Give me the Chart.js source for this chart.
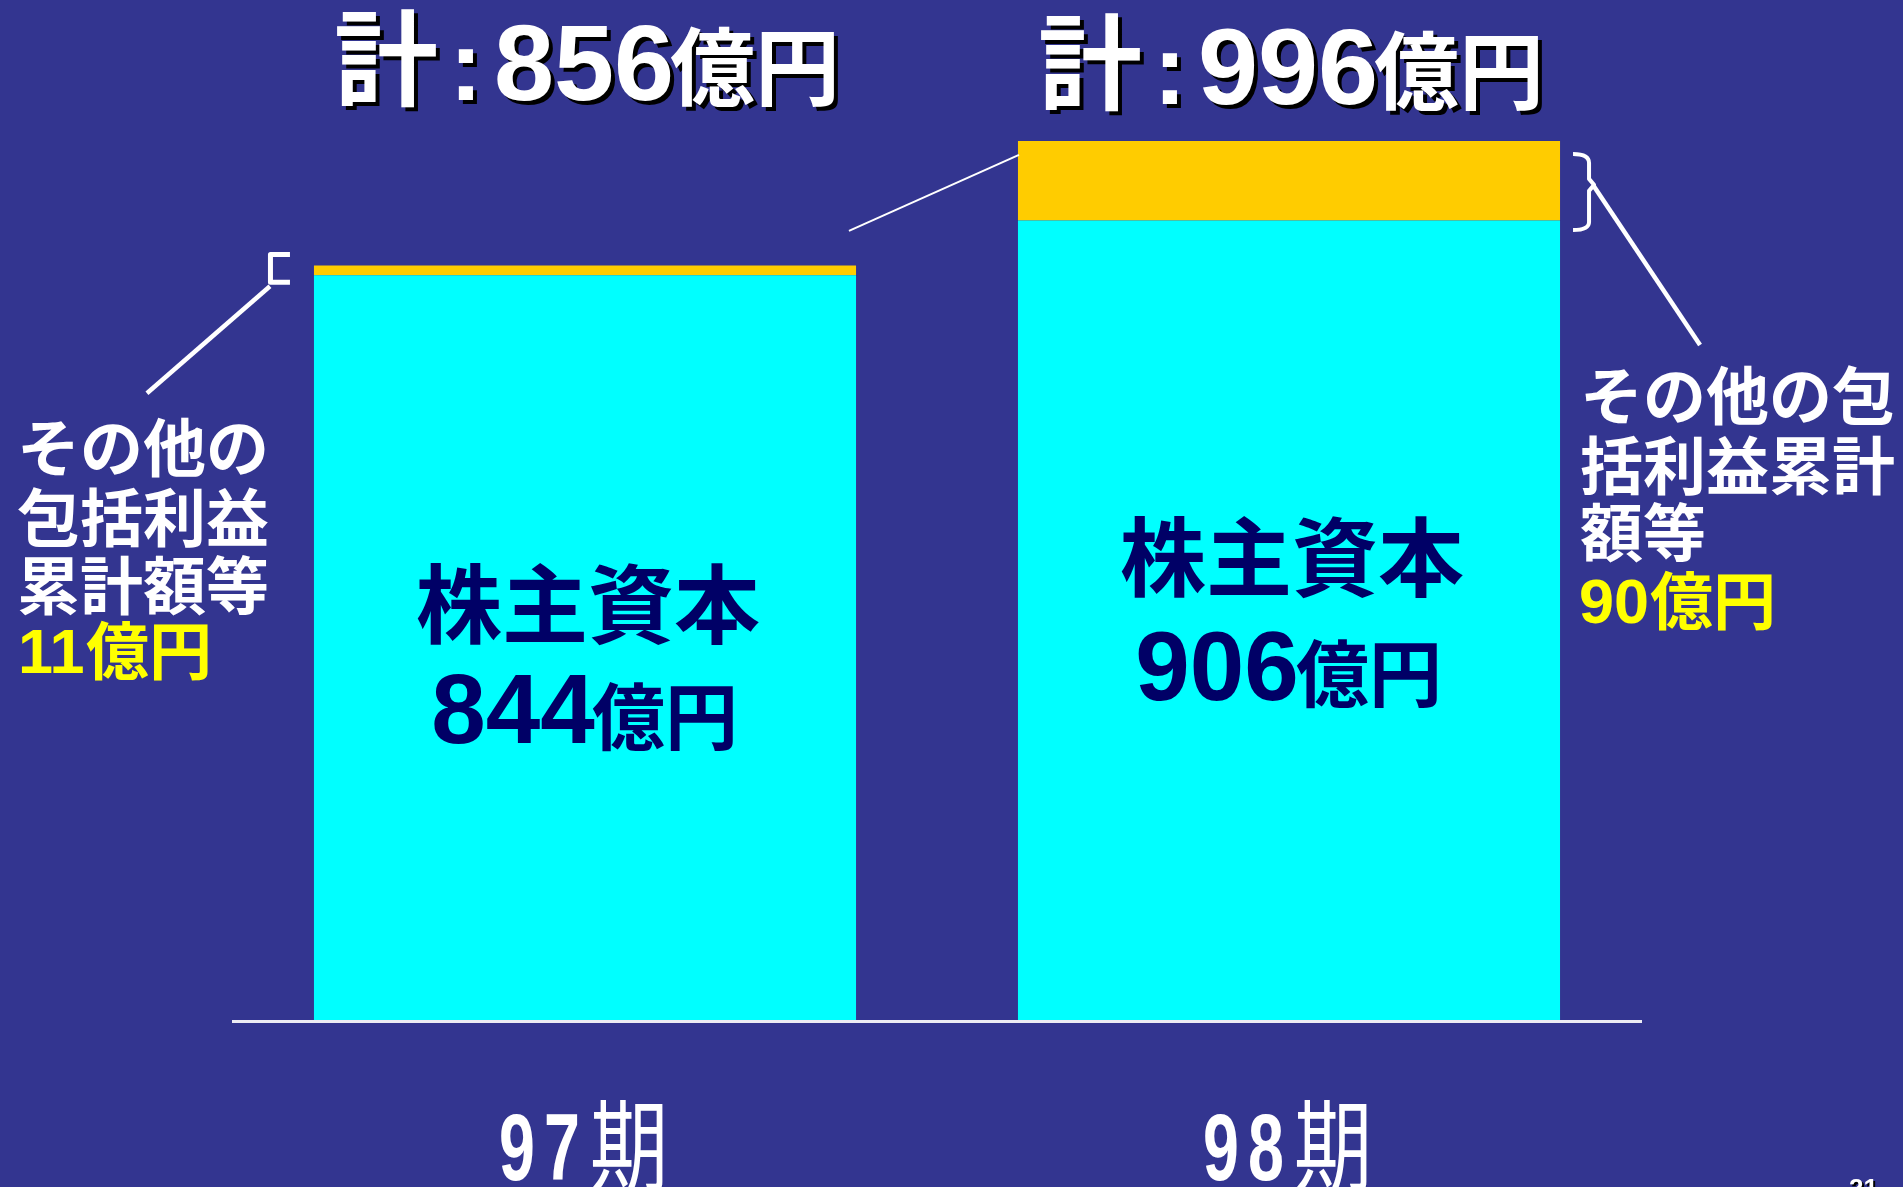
<!DOCTYPE html>
<html><head><meta charset="utf-8">
<script src="https://cdn.jsdelivr.net/npm/chart.js@4.4.0/dist/chart.umd.min.js"></script>
<style>
html,body{margin:0;padding:0;background:#333590;overflow:hidden}
#wrap{width:1903px;height:1187px;position:relative}
canvas{display:block}
</style></head><body><div id="wrap"><canvas id="c" width="1903" height="1187"></canvas></div>
<script>
// ---- data ----
const categories = ['97期', '98期'];
const seriesNames = ['株主資本', 'その他の包括利益累計額等'];
const shareholdersEquity = [844, 906];
const otherComprehensive = [11, 90];
const totals = [856, 996];
const totalPrefix = '計';
const unit = '億円';
const pageNumber = '21';

// ---- style ----
const BG = '#333590';
const CYAN = '#00ffff', ORANGE = '#ffcc00', NAVY = '#000066', WHITE = '#ffffff', YELLOW = '#ffff00';
const LAT = '"Liberation Sans", Arial, sans-serif';
const CJK = '"Noto Sans CJK JP", "Noto Sans CJK SC", sans-serif';

function txt(ctx, s, x, y, font, color, align, opts) {
  opts = opts || {};
  ctx.save();
  ctx.font = font; ctx.fillStyle = color; ctx.textAlign = align || 'left'; ctx.textBaseline = 'alphabetic';
  if (opts.shadow) { ctx.shadowColor = '#000'; ctx.shadowOffsetX = opts.shadow; ctx.shadowOffsetY = opts.shadow; ctx.shadowBlur = 0; }
  if (opts.sx) { ctx.translate(x, y); ctx.scale(opts.sx, 1); ctx.fillText(s, 0, 0); }
  else ctx.fillText(s, x, y);
  ctx.restore();
}
function line(ctx, pts, w) {
  ctx.save(); ctx.strokeStyle = WHITE; ctx.lineWidth = w; ctx.lineCap = 'butt'; ctx.lineJoin = 'round';
  ctx.beginPath(); ctx.moveTo(pts[0][0], pts[0][1]);
  for (let i = 1; i < pts.length; i++) ctx.lineTo(pts[i][0], pts[i][1]);
  ctx.stroke(); ctx.restore();
}

const titleBase = [100, 104];
const barTextCenter = [604, 557];
const barValueBase = [743, 700];

const deco = {
  id: 'deco',
  beforeDraw(chart) {
    const c = chart.ctx; c.save(); c.fillStyle = BG; c.fillRect(0, 0, chart.width, chart.height); c.restore();
  },
  afterDraw(chart) {
    const ctx = chart.ctx, xs = chart.scales.x;
    const m0 = chart.getDatasetMeta(0).data, m1 = chart.getDatasetMeta(1).data;
    for (let i = 0; i < categories.length; i++) {
      const cx = xs.getPixelForValue(i);
      // title
      const tb = titleBase[i];
      txt(ctx, totalPrefix, cx - 199, tb - 2, 'bold 104px ' + CJK, WHITE, 'center', {shadow: 4});
      txt(ctx, ':', cx - 119, tb, 'bold 100px ' + LAT, WHITE, 'center', {shadow: 4});
      txt(ctx, String(totals[i]), cx - 1, tb, 'bold 108px ' + LAT, WHITE, 'center', {shadow: 4});
      txt(ctx, unit, cx + 170, tb - 1, 'bold 85px ' + CJK, WHITE, 'center', {shadow: 4});
      // bar text
      txt(ctx, seriesNames[0], cx + 3, barTextCenter[i] + 33, 'bold 86px ' + CJK, NAVY, 'center');
      txt(ctx, String(shareholdersEquity[i]), cx - 72, barValueBase[i], 'bold 98px ' + LAT, NAVY, 'center');
      txt(ctx, unit, cx + 80, barValueBase[i] + 1, 'bold 73px ' + CJK, NAVY, 'center');
      // x labels
      const lab = categories[i];
      const digits = lab.replace(/[^0-9]/g, ''), rest = lab.replace(/[0-9]/g, '');
      const dOff = [-68, -23];
      for (let k = 0; k < digits.length; k++) {
        txt(ctx, digits[k], cx + dOff[k], 1180, 'bold 95px ' + LAT, WHITE, 'center', {sx: 0.68});
      }
      txt(ctx, rest, cx + 44, 1183, '100px ' + CJK, WHITE, 'center', {sx: 0.78});
    }
    // left annotation (bar 0)
    const b0 = m0[0], o0 = m1[0];
    const l0 = b0.x - b0.width / 2;
    const bt = o0.y - 11, bb = b0.y + 7;
    line(ctx, [[l0 - 24, bt], [l0 - 43.5, bt], [l0 - 43.5, bb], [l0 - 24, bb]], 5);
    line(ctx, [[l0 - 44, bb + 4], [l0 - 167, bb + 111]], 4.5);
    const nm = seriesNames[1];
    const leftLines = [nm.slice(0, 4), nm.slice(4, 8), nm.slice(8)];
    const leftY = [447, 517, 585];
    leftLines.forEach((s, k) => txt(ctx, s, 17, leftY[k] + 24, 'bold 63px ' + CJK, WHITE, 'left'));
    txt(ctx, String(otherComprehensive[0]), 18, 673, 'bold 63px ' + LAT, YELLOW, 'left');
    txt(ctx, unit, 86, 674, 'bold 63px ' + CJK, YELLOW, 'left');
    // right annotation (bar 1)
    const b1 = m0[1], o1 = m1[1];
    const r1 = b1.x + b1.width / 2, l1 = b1.x - b1.width / 2;
    const top1 = o1.y;
    ctx.save(); ctx.strokeStyle = WHITE; ctx.lineWidth = 4; ctx.lineJoin = 'round';
    ctx.beginPath();
    ctx.moveTo(r1 + 13, top1 + 13);
    ctx.quadraticCurveTo(r1 + 29, top1 + 13, r1 + 29, top1 + 22);
    ctx.lineTo(r1 + 29, top1 + 38);
    ctx.lineTo(r1 + 34, top1 + 44);
    ctx.lineTo(r1 + 29, top1 + 50);
    ctx.lineTo(r1 + 29, top1 + 81);
    ctx.quadraticCurveTo(r1 + 29, top1 + 89, r1 + 13, top1 + 89);
    ctx.stroke(); ctx.restore();
    line(ctx, [[r1 + 33, top1 + 44], [r1 + 140, top1 + 204]], 4.5);
    line(ctx, [[l1 + 1, top1 + 14], [l1 - 169, top1 + 90]], 2);
    const rightLines = [nm.slice(0, 5), nm.slice(5, 10), nm.slice(10)];
    const rightY = [395, 465, 532];
    rightLines.forEach((s, k) => txt(ctx, s, 1580, rightY[k] + 24, 'bold 63px ' + CJK, WHITE, 'left'));
    txt(ctx, String(otherComprehensive[1]), 1579, 623, 'bold 63px ' + LAT, YELLOW, 'left');
    txt(ctx, unit, 1650, 624, 'bold 63px ' + CJK, YELLOW, 'left');
    // page number
    txt(ctx, pageNumber, 1849, 1197, 'bold 26px ' + LAT, WHITE, 'left', {shadow: 2});
  }
};

new Chart(document.getElementById('c'), {
  type: 'bar',
  data: {
    labels: categories,
    datasets: [
      {label: seriesNames[0], data: shareholdersEquity, backgroundColor: CYAN, borderWidth: 0, categoryPercentage: 0.77, barPercentage: 1},
      {label: seriesNames[1], data: otherComprehensive, backgroundColor: ORANGE, borderWidth: 0, categoryPercentage: 0.77, barPercentage: 1}
    ]
  },
  options: {
    responsive: false,
    devicePixelRatio: 1,
    animation: false,
    layout: {padding: {left: 233, right: 262, top: 49, bottom: 166}},
    plugins: {legend: {display: false}, tooltip: {enabled: false}, title: {display: false}},
    scales: {
      x: {stacked: true, display: true, grid: {display: false, drawTicks: false}, ticks: {display: false},
          border: {display: true, color: '#ececf4', width: 3, z: 1}},
      y: {stacked: true, display: false, min: 0, max: 1100}
    }
  },
  plugins: [deco]
});
</script>
</body></html>
